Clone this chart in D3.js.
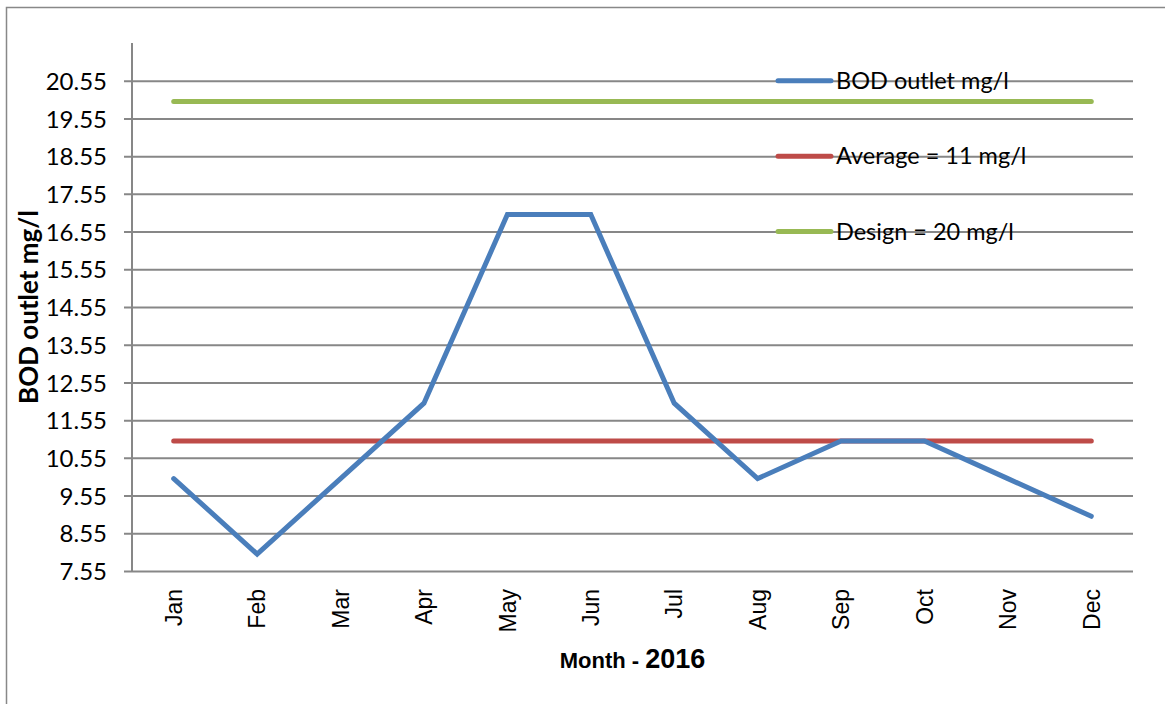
<!DOCTYPE html>
<html>
<head>
<meta charset="utf-8">
<script src="https://cdn.jsdelivr.net/npm/d3@7"></script>
<style>
  body { margin: 0; background: #fff; }
  svg { display: block; }
</style>
</head>
<body>
<svg id="chart" width="1165" height="704"></svg>
<script>
// Monthly BOD outlet readings, 2016
const months = ["Jan","Feb","Mar","Apr","May","Jun","Jul","Aug","Sep","Oct","Nov","Dec"];
const bodOutlet = [10, 8, 10, 12, 17, 17, 12, 10, 11, 11, 10, 9];
const averageValue = 11;
const designValue = 20;
const yTicks = [7.55, 8.55, 9.55, 10.55, 11.55, 12.55, 13.55, 14.55, 15.55, 16.55, 17.55, 18.55, 19.55, 20.55];
const yDomain = [7.55, 21.55];
const seriesNames = ["BOD outlet mg/l", "Average = 11 mg/l", "Design = 20 mg/l"];
const seriesColors = ["#4a7ebb", "#be4b48", "#98b954"];

const svg = d3.select("#chart");
const plot = { left: 132, right: 1133, top: 43, bottom: 571 };

// chart frame
svg.append("rect")
  .attr("x", 6.5).attr("y", 7.5)
  .attr("width", 1165).attr("height", 710)
  .attr("fill", "none").attr("stroke", "#888").attr("stroke-width", 1.5);

const x = d3.scaleBand().domain(months).range([plot.left, plot.right]);
const y = d3.scaleLinear().domain(yDomain).range([plot.bottom, plot.top]);
const cx = m => x(m) + x.bandwidth() / 2;

// horizontal gridlines + y axis
const yAxis = d3.axisLeft(y).tickValues(yTicks).tickFormat(d3.format(".2f"))
  .tickSize(-(plot.right - plot.left)).tickSizeOuter(0);
const gy = svg.append("g").attr("transform", `translate(${plot.left},0)`).call(yAxis);
gy.select(".domain").remove();
gy.selectAll(".tick line").attr("stroke", "#878787").attr("stroke-width", 2).attr("x1", -8);
gy.selectAll(".tick text")
  .attr("x", -25).attr("dy", "0.36em")
  .attr("font-family", "Lato, 'Open Sans', sans-serif").attr("font-size", 24).attr("fill", "#000");

// y axis line
svg.append("line")
  .attr("x1", plot.left).attr("x2", plot.left)
  .attr("y1", plot.top).attr("y2", plot.bottom)
  .attr("stroke", "#878787").attr("stroke-width", 2);

// x axis labels
const xAxis = d3.axisBottom(x).tickSize(0).tickSizeOuter(0);
const gx = svg.append("g").attr("transform", `translate(0,${plot.bottom})`).call(xAxis);
gx.select(".domain").remove();
gx.selectAll(".tick text")
  .attr("transform", "rotate(-90)")
  .attr("x", -18).attr("y", 0).attr("dy", "0.36em")
  .attr("text-anchor", "end")
  .attr("font-family", "'Liberation Sans', Arial, sans-serif").attr("font-size", 23).attr("fill", "#000");

// data series
const line = d3.line().x((d, i) => cx(months[i])).y(d => y(d));
const refLine = v => months.map(() => v);

svg.append("path").datum(refLine(designValue))
  .attr("d", line).attr("fill", "none")
  .attr("stroke", seriesColors[2]).attr("stroke-width", 5).attr("stroke-linecap", "round");

svg.append("path").datum(refLine(averageValue))
  .attr("d", line).attr("fill", "none")
  .attr("stroke", seriesColors[1]).attr("stroke-width", 5).attr("stroke-linecap", "round");

svg.append("path").datum(bodOutlet)
  .attr("d", line).attr("fill", "none")
  .attr("stroke", seriesColors[0]).attr("stroke-width", 5)
  .attr("stroke-linecap", "round").attr("stroke-linejoin", "miter");

// legend
const legendRows = [20.55, 18.55, 16.55];
const legend = svg.append("g");
seriesNames.forEach((name, i) => {
  const ly = y(legendRows[i]);
  legend.append("line")
    .attr("x1", 778).attr("x2", 831).attr("y1", ly).attr("y2", ly)
    .attr("stroke", seriesColors[i]).attr("stroke-width", 5).attr("stroke-linecap", "round");
  legend.append("text")
    .attr("x", 836).attr("y", ly).attr("dy", "0.35em")
    .attr("font-family", "Lato, 'Open Sans', sans-serif").attr("font-size", 23.5).attr("fill", "#000")
    .text(name);
});

// axis titles
svg.append("text")
  .attr("transform", `translate(38,${(plot.top + plot.bottom) / 2}) rotate(-90)`)
  .attr("text-anchor", "middle")
  .attr("font-family", "Lato, 'Open Sans', sans-serif").attr("font-weight", "bold")
  .attr("font-size", 26).attr("fill", "#000")
  .text("BOD outlet mg/l");

const xt = svg.append("text")
  .attr("x", (plot.left + plot.right) / 2).attr("y", 668)
  .attr("text-anchor", "middle")
  .attr("font-family", "'Liberation Sans', Arial, sans-serif").attr("font-weight", "bold")
  .attr("fill", "#000");
xt.append("tspan").attr("font-size", 22).text("Month - ");
xt.append("tspan").attr("font-size", 27).text("2016");
</script>
</body>
</html>
